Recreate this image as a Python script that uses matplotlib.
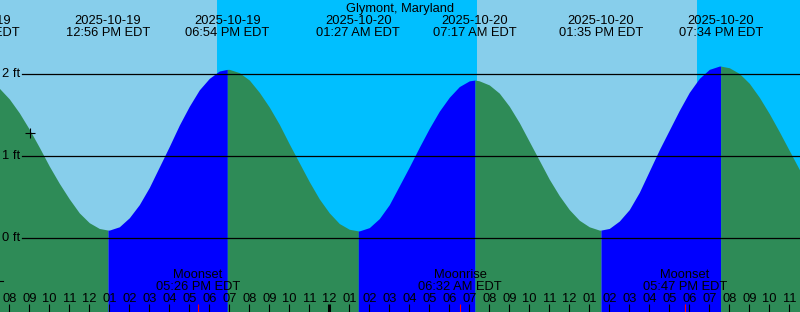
import matplotlib
matplotlib.use('Agg')
import matplotlib.pyplot as plt
import matplotlib.transforms as mtransforms
import numpy as np

plt.rcParams['font.family'] = ['Liberation Sans', 'DejaVu Sans']

# tide height (ft) every half hour, hours since 2025-10-19 00:00 EDT
sample_start = 7.5
heights = [1.83, 1.70, 1.53, 1.33, 1.11, 0.88, 0.67, 0.48, 0.31, 0.19,
           0.12, 0.10, 0.14, 0.25, 0.41, 0.62, 0.87, 1.12, 1.38, 1.61,
           1.81, 1.95, 2.04, 2.06, 2.02, 1.93, 1.78, 1.60, 1.39, 1.15,
           0.92, 0.69, 0.48, 0.31, 0.18, 0.11, 0.09, 0.13, 0.24, 0.41,
           0.64, 0.87, 1.11, 1.34, 1.55, 1.72, 1.85, 1.92, 1.92, 1.87,
           1.77, 1.61, 1.41, 1.18, 0.95, 0.72, 0.52, 0.35, 0.22, 0.14,
           0.10, 0.12, 0.21, 0.35, 0.56, 0.82, 1.08, 1.32, 1.56, 1.78,
           1.95, 2.06, 2.10, 2.08, 2.01, 1.89, 1.72, 1.52, 1.30, 1.07,
           0.84, 0.63]

# high / low tide events
event_hours = [6.43, 12.933, 18.9, 25.45, 31.283, 37.583, 43.567]
event_heights = [1.95, 0.10, 2.06, 0.09, 1.93, 0.10, 2.10]
event_kinds = ['high', 'low', 'high', 'low', 'high', 'low', 'high']
event_dates = ['2025-10-19', '2025-10-19', '2025-10-19', '2025-10-20',
               '2025-10-20', '2025-10-20', '2025-10-20']
event_times = ['06:26 AM EDT', '12:56 PM EDT', '06:54 PM EDT', '01:27 AM EDT',
               '07:17 AM EDT', '01:35 PM EDT', '07:34 PM EDT']

# moon events
moon_hours = [17.433, 30.533, 41.783]
moon_names = ['Moonset', 'Moonrise', 'Moonset']
moon_times = ['05:26 PM EDT', '06:32 AM EDT', '05:47 PM EDT']

# night (sunset -> sunrise)
night_start = [18.38, 42.36]
night_end = [31.37, 60.0]

title = 'Glymont, Maryland'
W, H = 800, 312
t_left, t_right = 7.535, 47.535
y_low, y_high = -0.899, 2.906
fs = 9.3

fig = plt.figure(figsize=(W / 100, H / 100), dpi=100)
ax = fig.add_axes([0, 0, 1, 1])
ax.set_xlim(t_left, t_right)
ax.set_ylim(y_low, y_high)
ax.axis('off')

def py(ypx):
    return 1 - ypx / H

tr = mtransforms.blended_transform_factory(ax.transData, ax.transAxes)

# sky
ax.axvspan(t_left - 5, t_right + 5, color='#87CEEB', lw=0, zorder=0)
for a, b in zip(night_start, night_end):
    ax.axvspan(a, b, color='#00BFFF', lw=0, zorder=0.5)

# water, green while falling and blue while rising
hours = [sample_start + 0.5 * i for i in range(len(heights))]
t_all = np.array(hours + event_hours)
h_all = np.array(heights + event_heights)
order = np.argsort(t_all)
t_all, h_all = t_all[order], h_all[order]
bounds = [-100] + event_hours + [100]
for i in range(len(bounds) - 1):
    a, b = bounds[i], bounds[i + 1]
    m = (t_all >= a) & (t_all <= b)
    if m.sum() < 2:
        continue
    falling = i > 0 and event_kinds[i - 1] == 'high'
    ax.fill_between(t_all[m], y_low, h_all[m], color='#2E8B57' if falling else '#0000FF',
                    lw=0, zorder=1)

# height lines
for lvl in [0, 1, 2]:
    ax.axhline(lvl, xmin=22 / W, xmax=1, color='black', lw=0.9, zorder=2)
    ax.text(20 / W, lvl, f'{lvl} ft', transform=mtransforms.blended_transform_factory(ax.transAxes, ax.transData),
            ha='right', va='center', fontsize=fs, zorder=3)
ax.plot([0, 3 / W], [py(281), py(281)], transform=ax.transAxes, color='black', lw=0.8, zorder=2)

# current time marker
ax.plot([30.3 / W], [py(133)], transform=ax.transAxes, marker='+', ms=7, mew=0.8,
        color='black', zorder=3)

# title and tide labels
ax.text(0.5, py(12), title, transform=ax.transAxes, ha='center', va='baseline', fontsize=fs)
for t, d, s in zip(event_hours, event_dates, event_times):
    ax.text(t, py(24), d, transform=tr, ha='center', va='baseline', fontsize=fs)
    ax.text(t, py(36.5), s, transform=tr, ha='center', va='baseline', fontsize=fs)

# hour ticks
for hr in range(8, 48):
    lab = (hr - 1) % 12 + 1
    ax.text(hr, py(301.5), f'{lab:02d}', transform=tr, ha='center', va='baseline', fontsize=fs)
    ax.plot([hr, hr], [py(304), py(312)], transform=tr, color='black',
            lw=2.2 if hr % 24 == 0 else 0.8, solid_capstyle='butt', zorder=3)

# moon events
for t, n, s in zip(moon_hours, moon_names, moon_times):
    ax.plot([t, t], [py(304), py(312)], transform=tr, color='red', lw=0.8,
            solid_capstyle='butt', zorder=3)
    ax.text(t, py(278), n, transform=tr, ha='center', va='baseline', fontsize=fs)
    ax.text(t, py(290), s, transform=tr, ha='center', va='baseline', fontsize=fs)

fig.savefig('out.png', dpi=100)
